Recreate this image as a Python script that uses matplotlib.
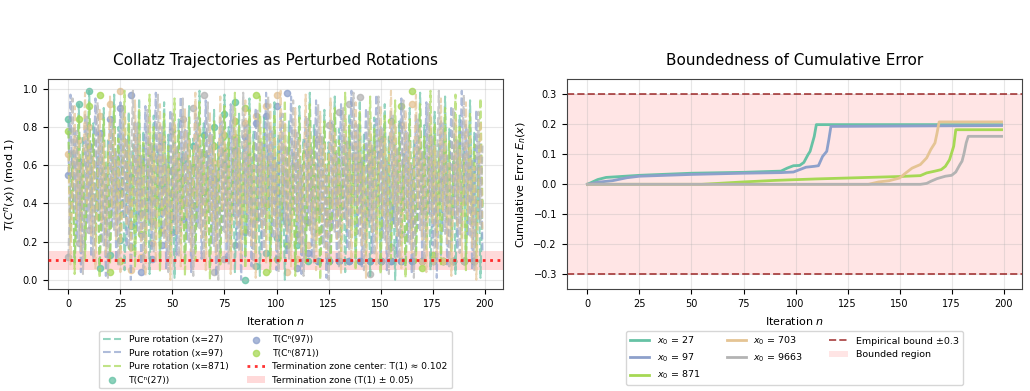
import numpy as np
import matplotlib
matplotlib.use("Agg")
import matplotlib.pyplot as plt

# Set2 colours per starting value
starts = [27, 97, 871, 703, 9663]
colors = ["#66c2a5", "#8da0cb", "#a6d854", "#e5c494", "#b3b3b3"]

# --- pure rotation values, n = 0..199 ---
rot_27 = [
    .84, .26, .67, .09, .50, .92, .33, .75, .16, .58, .99, .41,
    .82, .24, .65, .07, .48, .90, .31, .73, .14, .56, .97, .39,
    .80, .22, .63, .05, .46, .88, .29, .71, .12, .54, .95, .37,
    .78, .20, .61, .03, .44, .86, .27, .69, .10, .52, .93, .35,
    .76, .18, .59, .01, .42, .84, .25, .67, .08, .50, .91, .33,
    .74, .16, .57, .99, .40, .82, .23, .65, .06, .48, .89, .31,
    .72, .14, .55, .97, .38, .80, .21, .63, .04, .46, .87, .29,
    .70, .12, .53, .95, .36, .78, .19, .61, .02, .44, .85, .27,
    .68, .10, .51, .93, .34, .76, .17, .59, .00, .42, .83, .25,
    .66, .08, .49, .91, .32, .74, .15, .57, .98, .40, .81, .23,
    .64, .06, .47, .89, .30, .72, .13, .55, .96, .38, .79, .21,
    .62, .04, .45, .87, .28, .70, .11, .53, .94, .36, .77, .19,
    .60, .02, .43, .85, .26, .68, .09, .51, .92, .34, .75, .17,
    .58, .00, .41, .83, .24, .66, .07, .49, .90, .32, .73, .15,
    .56, .98, .39, .81, .22, .64, .05, .47, .88, .30, .71, .13,
    .54, .96, .37, .79, .20, .62, .03, .45, .86, .28, .69, .11,
    .52, .94, .35, .77, .18, .60, .01, .43,
]
rot_97 = [
    .55, .97, .38, .80, .21, .63, .04, .46, .87, .29, .70, .12,
    .53, .95, .36, .78, .19, .61, .02, .44, .85, .27, .68, .10,
    .51, .93, .34, .76, .17, .59, .00, .42, .83, .25, .66, .08,
    .49, .91, .32, .74, .15, .57, .98, .40, .81, .23, .64, .06,
    .47, .89, .30, .72, .13, .55, .96, .38, .79, .21, .62, .04,
    .45, .87, .28, .70, .11, .53, .94, .36, .77, .19, .60, .02,
    .43, .85, .26, .68, .09, .51, .92, .34, .75, .17, .58, .00,
    .41, .83, .24, .66, .07, .49, .90, .32, .73, .15, .56, .98,
    .39, .81, .22, .64, .05, .47, .88, .30, .71, .13, .54, .96,
    .37, .79, .20, .62, .03, .45, .86, .28, .69, .11, .52, .94,
    .35, .77, .18, .60, .01, .43, .84, .26, .67, .09, .50, .92,
    .33, .75, .16, .58, .99, .41, .82, .24, .65, .07, .48, .90,
    .31, .73, .14, .56, .97, .39, .80, .22, .63, .05, .46, .88,
    .29, .71, .12, .54, .95, .37, .78, .20, .61, .03, .44, .86,
    .27, .69, .10, .52, .93, .35, .76, .18, .59, .01, .42, .84,
    .25, .67, .08, .50, .91, .33, .74, .16, .57, .99, .40, .82,
    .23, .65, .06, .48, .89, .31, .72, .14,
]
rot_871 = [
    .78, .20, .61, .03, .44, .86, .27, .69, .10, .52, .93, .35,
    .76, .18, .59, .01, .42, .84, .25, .67, .08, .50, .91, .33,
    .74, .16, .57, .99, .40, .82, .23, .65, .06, .48, .89, .31,
    .72, .14, .55, .97, .38, .80, .21, .63, .04, .46, .87, .29,
    .70, .12, .53, .95, .36, .78, .19, .61, .02, .44, .85, .27,
    .68, .10, .51, .93, .34, .76, .17, .59, .00, .42, .83, .25,
    .66, .08, .49, .91, .32, .74, .15, .57, .98, .40, .81, .23,
    .64, .06, .47, .89, .30, .72, .13, .55, .96, .38, .79, .21,
    .62, .04, .45, .87, .28, .70, .11, .53, .94, .36, .77, .19,
    .60, .02, .43, .85, .26, .68, .09, .51, .92, .34, .75, .17,
    .58, .00, .41, .83, .24, .66, .07, .49, .90, .32, .73, .15,
    .56, .98, .39, .81, .22, .64, .05, .47, .88, .30, .71, .13,
    .54, .96, .37, .79, .20, .62, .03, .45, .86, .28, .69, .11,
    .52, .94, .35, .77, .18, .60, .01, .43, .84, .26, .67, .09,
    .50, .92, .33, .75, .16, .58, .99, .41, .82, .24, .65, .07,
    .48, .90, .31, .73, .14, .56, .97, .39, .80, .22, .63, .05,
    .46, .88, .29, .71, .12, .54, .95, .37,
]
rot_703 = [
    .66, .08, .49, .91, .32, .74, .15, .57, .98, .40, .81, .23,
    .64, .06, .47, .89, .30, .72, .13, .55, .96, .38, .79, .21,
    .62, .04, .45, .87, .28, .70, .11, .53, .94, .36, .77, .19,
    .60, .02, .43, .85, .26, .68, .09, .51, .92, .34, .75, .17,
    .58, .00, .41, .83, .24, .66, .07, .49, .90, .32, .73, .15,
    .56, .98, .39, .81, .22, .64, .05, .47, .88, .30, .71, .13,
    .54, .96, .37, .79, .20, .62, .03, .45, .86, .28, .69, .11,
    .52, .94, .35, .77, .18, .60, .01, .43, .84, .26, .67, .09,
    .50, .92, .33, .75, .16, .58, .99, .41, .82, .24, .65, .07,
    .48, .90, .31, .73, .14, .56, .97, .39, .80, .22, .63, .05,
    .46, .88, .29, .71, .12, .54, .95, .37, .78, .20, .61, .03,
    .44, .86, .27, .69, .10, .52, .93, .35, .76, .18, .59, .01,
    .42, .84, .25, .67, .08, .50, .91, .33, .74, .16, .57, .99,
    .40, .82, .23, .65, .06, .48, .89, .31, .72, .14, .55, .97,
    .38, .80, .21, .63, .04, .46, .87, .29, .70, .12, .53, .95,
    .36, .78, .19, .61, .02, .44, .85, .27, .68, .10, .51, .93,
    .34, .76, .17, .59, .00, .42, .83, .25,
]
rot_9663 = [
    .12, .54, .95, .37, .78, .20, .61, .03, .44, .86, .27, .69,
    .10, .52, .93, .35, .76, .18, .59, .01, .42, .84, .25, .67,
    .08, .50, .91, .33, .74, .16, .57, .99, .40, .82, .23, .65,
    .06, .48, .89, .31, .72, .14, .55, .97, .38, .80, .21, .63,
    .04, .46, .87, .29, .70, .12, .53, .95, .36, .78, .19, .61,
    .02, .44, .85, .27, .68, .10, .51, .93, .34, .76, .17, .59,
    .00, .42, .83, .25, .66, .08, .49, .91, .32, .74, .15, .57,
    .98, .40, .81, .23, .64, .06, .47, .89, .30, .72, .13, .55,
    .96, .38, .79, .21, .62, .04, .45, .87, .28, .70, .11, .53,
    .94, .36, .77, .19, .60, .02, .43, .85, .26, .68, .09, .51,
    .92, .34, .75, .17, .58, .00, .41, .83, .24, .66, .07, .49,
    .90, .32, .73, .15, .56, .98, .39, .81, .22, .64, .05, .47,
    .88, .30, .71, .13, .54, .96, .37, .79, .20, .62, .03, .45,
    .86, .28, .69, .11, .52, .94, .35, .77, .18, .60, .01, .43,
    .84, .26, .67, .09, .50, .92, .33, .75, .16, .58, .99, .41,
    .82, .24, .65, .07, .48, .90, .31, .73, .14, .56, .97, .39,
    .80, .22, .63, .05, .46, .88, .29, .71,
]
rotations = [rot_27, rot_97, rot_871, rot_703, rot_9663]

# --- actual trajectory T(C^n(x)), sampled every 5th iteration ---
sample_n = list(range(0, 200, 5))
traj_27 = [.84, .92, .99, .06, .13, .21, .28, .35, .43, .50, .57, .63, .70, .76,
           .80, .87, .93, .00, .07, .14, .22, .30, .18, .10, .10, .10, .10, .10,
           .10, .10, .10, .10, .10, .10, .10, .10, .10, .10, .10, .10]
traj_97 = [.55, .62, .70, .77, .84, .90, .97, .04, .11, .18, .25, .32, .39, .46,
           .53, .60, .68, .75, .82, .86, .91, .98, .06, .14, .10, .10, .10, .10,
           .10, .10, .10, .10, .10, .10, .10, .10, .10, .10, .10, .10]
traj_871 = [.78, .84, .91, .97, .04, .10, .17, .24, .31, .38, .45, .52, .59, .66,
            .70, .76, .83, .90, .97, .04, .11, .18, .24, .30, .36, .42, .48, .54,
            .60, .67, .74, .83, .91, .99, .06, .13, .10, .10, .10, .10]
traj_703 = [.66, .73, .80, .86, .92, .99, .05, .12, .19, .26, .33, .40, .47, .54,
            .61, .68, .75, .82, .86, .91, .97, .04, .11, .18, .25, .32, .39, .46,
            .53, .60, .67, .74, .81, .92, .10, .10, .10, .10, .10, .10]
traj_9663 = [.12, .19, .26, .33, .40, .47, .54, .60, .66, .72, .78, .84, .90, .97,
             .04, .11, .18, .25, .32, .39, .46, .53, .60, .67, .74, .81, .88, .92,
             .96, .03, .10, .17, .24, .31, .38, .45, .52, .10, .10, .10]
trajectories = [traj_27, traj_97, traj_871, traj_703, traj_9663]

# --- cumulative error E_n(x) (breakpoints) ---
err_n = [
    [0, 5, 9, 25, 50, 75, 93, 96, 99, 102, 104, 106, 107, 109, 110, 199],
    [0, 5, 12, 19, 25, 50, 75, 93, 99, 102, 105, 109, 111, 113, 115, 116, 117, 199],
    [0, 55, 75, 90, 110, 125, 150, 160, 163, 167, 170, 172, 174, 176, 177, 199],
    [0, 135, 140, 145, 150, 153, 156, 160, 163, 165, 167, 168, 169, 199],
    [0, 160, 163, 165, 168, 172, 175, 177, 179, 180, 181, 182, 183, 199],
]
err_val = [
    [0, .016, .023, .030, .037, .040, .044, .054, .062, .063, .073, .099, .110, .160, .199, .199],
    [0, .007, .012, .022, .027, .033, .037, .039, .041, .049, .057, .060, .062, .093, .110, .149, .193, .196],
    [0, 0, .008, .013, .018, .021, .026, .029, .038, .044, .049, .060, .082, .127, .182, .182],
    [0, 0, .008, .012, .021, .038, .054, .066, .088, .116, .138, .171, .208, .208],
    [0, 0, .003, .010, .019, .027, .030, .041, .066, .077, .104, .138, .160, .160],
]

t_one = 0.102
zone_half = 0.05
bound = 0.3

fig = plt.figure(figsize=(10.3, 3.91), dpi=100)
ax1 = fig.add_axes([0.0463, 0.2601, 0.4423, 0.537])
ax2 = fig.add_axes([0.5502, 0.2601, 0.4423, 0.537])

# left panel: trajectory points first, rotations drawn over them
sc_handles = []
for x0, c, t in zip(starts, colors, trajectories):
    h = ax1.scatter(sample_n[:len(t)], t, s=20, color=c, alpha=0.75, zorder=1.5,
                    label=f"T(Cⁿ({x0}))")
    sc_handles.append(h)
rot_handles = []
for x0, c, r in zip(starts, colors, rotations):
    h, = ax1.plot(np.arange(len(r)), r, "--", color=c, lw=1.5, alpha=0.7,
                  zorder=2, label=f"Pure rotation (x={x0})")
    rot_handles.append(h)
line_h = ax1.axhline(t_one, color="red", ls=":", lw=2, alpha=0.8, zorder=3,
                     label=f"Termination zone center: T(1) ≈ {t_one:.3f}")
span_h = ax1.axhspan(t_one - zone_half, t_one + zone_half, color="red", alpha=0.15,
                     lw=0, label=f"Termination zone (T(1) ± {zone_half})")
ax1.set_ylim(-0.05, 1.05)
ax1.set_title("Collatz Trajectories as Perturbed Rotations", fontsize=11, pad=10)
ax1.set_xlabel("Iteration $n$", fontsize=8)
ax1.set_ylabel("$T(C^n(x))$ (mod 1)", fontsize=8)
ax1.grid(True, alpha=0.3)
handles = rot_handles[:3] + sc_handles[:3] + [line_h, span_h]
ax1.legend(handles=handles, labels=[h.get_label() for h in handles], ncol=2,
           loc="upper center", bbox_to_anchor=(0.5, -0.178), fontsize=6.6)

# right panel
for x0, c, nn, ev in zip(starts, colors, err_n, err_val):
    ax2.plot(nn, ev, color=c, lw=2, label=f"$x_0$ = {x0}")
ax2.axhline(bound, color="darkred", ls="--", lw=1.4, alpha=0.65,
            label=f"Empirical bound ±{bound}")
ax2.axhline(-bound, color="darkred", ls="--", lw=1.4, alpha=0.65)
ax2.axhspan(-bound, bound, color="red", alpha=0.1, lw=0, label="Bounded region")
ax2.set_xlim(-9.95, 208.95)
ax2.set_ylim(-0.35, 0.35)
ax2.set_title("Boundedness of Cumulative Error", fontsize=11, pad=10)
ax2.set_xlabel("Iteration $n$", fontsize=8)
ax2.set_ylabel("Cumulative Error $E_n(x)$", fontsize=8)
ax2.grid(True, alpha=0.3)
ax2.legend(ncol=3, loc="upper center", bbox_to_anchor=(0.5, -0.175), fontsize=6.8,
           columnspacing=2.8)

for ax in (ax1, ax2):
    ax.tick_params(labelsize=7)
    for s in ax.spines.values():
        s.set_color("#444444")

fig.savefig("out.png", dpi=100)
